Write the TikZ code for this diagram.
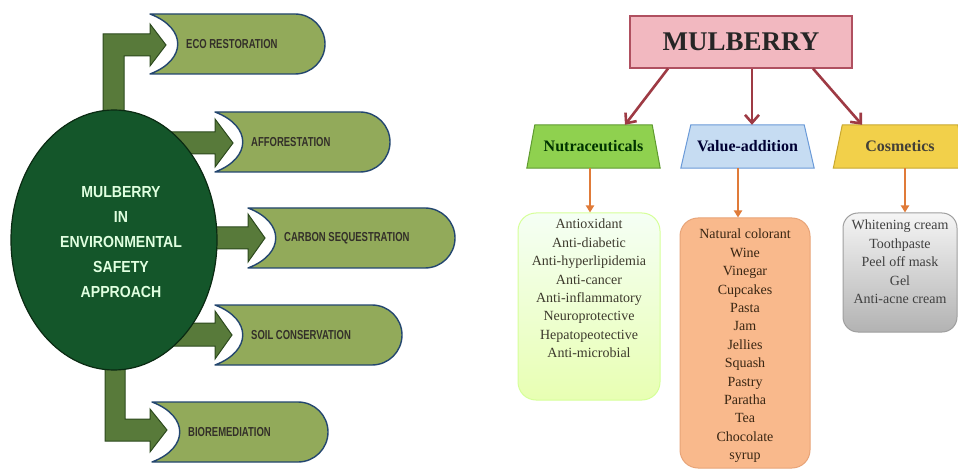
\documentclass[tikz,border=0pt]{standalone}
\usepackage{fontspec}
\setmainfont{Liberation Serif}
\newfontfamily\condsans[FakeStretch=0.73]{Liberation Sans}
\newfontfamily\ellsans[FakeStretch=0.88]{Liberation Sans}
\usetikzlibrary{shapes.geometric,arrows.meta}
\definecolor{boxfill}{HTML}{92AA5A}
\definecolor{boxline}{HTML}{23466F}
\definecolor{arrfill}{HTML}{587A3A}
\definecolor{arrline}{HTML}{2D4A1E}
\definecolor{ellfill}{HTML}{14562A}
\definecolor{ellline}{HTML}{0A2A12}
\definecolor{mulfill}{HTML}{F2B8C0}
\definecolor{mulline}{HTML}{B05060}
\definecolor{redarr}{HTML}{9E3A44}
\definecolor{nutfill}{HTML}{8FD14F}
\definecolor{nutline}{HTML}{5F9A30}
\definecolor{valfill}{HTML}{C6DCF2}
\definecolor{valline}{HTML}{6A9AD8}
\definecolor{cosfill}{HTML}{F2D04A}
\definecolor{cosline}{HTML}{C8A830}
\definecolor{orarr}{HTML}{E07B39}
\definecolor{orfill}{HTML}{F9B98C}
\definecolor{orline}{HTML}{E8A478}
\pgfdeclarelayer{bg}
\pgfsetlayers{bg,main}
\newcommand{\ecobox}[6]{%
  \draw[white, line width=5pt] (#2,#5) .. controls ({#2+37},{#5-14}) and ({#2+37},{#3+14}) .. (#2,#3);
  \draw[ebox] (#2,#3) -- ({#4-30},#3) arc[start angle=-90,end angle=90,radius=30] -- (#2,#5) .. controls ({#2+37},{#5-14}) and ({#2+37},{#3+14}) .. (#2,#3) -- cycle;
  \node[etxt] (#1) at ({#2+36},{(#3+#5)/2}) {#6};
}
\begin{document}
\begin{tikzpicture}[x=1pt,y=-1pt,
  ebox/.style={fill=boxfill, draw=boxline, line width=1.4pt, line join=round},
  etxt/.style={anchor=west, inner sep=0pt, text=black!85!olive, font=\condsans\bfseries\fontsize{13}{15}\selectfont},
  blockarr/.style={fill=arrfill, draw=arrline, line width=1pt, line join=miter},
  trapnode/.style={minimum width=133pt, minimum height=43pt, inner sep=0pt, font=\bfseries\fontsize{16}{18}\selectfont},
  redline/.style={draw=redarr, line width=2.6pt, -{Straight Barb[length=8pt,width=14pt]}},
  orline/.style={draw=orarr, line width=2pt, -{Triangle[length=7pt,width=8pt]}},
  lbox/.style={rounded corners=18pt, line width=1pt, inner sep=0pt},
  ltxt/.style={anchor=north, align=center, inner sep=0pt, font=\fontsize{14}{18.4}\selectfont}]
\useasboundingbox (0,0) rectangle (958,470);
\clip (0,0) rectangle (958,470);
\begin{pgfonlayer}{bg}
\fill[white] (0,0) rectangle (958,470);
\end{pgfonlayer}

% ---------- left: block arrows ----------
\draw[blockarr] (103,140) -- (103,34) -- (150,34) -- (150,24) -- (166,45) -- (150,66) -- (150,56) -- (124,56) -- (124,140) -- cycle;
\draw[blockarr] (150,132) -- (215,132) -- (215,119) -- (233,143) -- (215,167) -- (215,154) -- (150,154) -- cycle;
\draw[blockarr] (190,227) -- (248,227) -- (248,214) -- (265,238) -- (248,262) -- (248,249) -- (190,249) -- cycle;
\draw[blockarr] (150,323) -- (215,323) -- (215,311) -- (232,335) -- (215,359) -- (215,346) -- (150,346) -- cycle;
\draw[blockarr] (105,340) -- (105,441) -- (150,441) -- (150,452) -- (167,430) -- (150,409) -- (150,419) -- (125,419) -- (125,340) -- cycle;

% ---------- ellipse ----------
\node[ellipse, fill=ellfill, draw=ellline, line width=1.2pt, minimum width=206pt, minimum height=260pt, inner sep=0pt] (env) at (114,240) {};
\node[align=center, inner sep=0pt, text=white!88!green, font=\ellsans\bfseries\fontsize{16}{24.8}\selectfont] (envtxt) at (121,242) {MULBERRY\\IN\\ENVIRONMENTAL\\SAFETY\\APPROACH};

% ---------- left: boxes ----------
\ecobox{eco}{150}{14}{325}{74}{ECO RESTORATION}
\ecobox{aff}{215}{112}{390}{172}{AFFORESTATION}
\ecobox{carb}{248}{208}{455}{268}{CARBON SEQUESTRATION}
\ecobox{soil}{215}{305}{402}{365}{SOIL CONSERVATION}
\ecobox{bio}{152}{402}{328}{462}{BIOREMEDIATION}

% ---------- right: top box ----------
\node[fill=mulfill, draw=mulline, line width=1.2pt, minimum width=222pt, minimum height=52pt, inner sep=0pt, text=black!85, font=\bfseries\fontsize{27}{30}\selectfont] (mul) at (741,42) {MULBERRY};

% ---------- trapezoids ----------
\node[trapnode, text=black!80!green] (nut) at (593.5,146.5) {Nutraceuticals};
\node[trapnode, text=black!80!blue] (val) at (747.5,146.5) {Value-addition};
\node[trapnode, text=black!85!yellow] (cos) at (900,146.5) {Cosmetics};
\begin{pgfonlayer}{bg}
\draw[fill=nutfill, draw=nutline, line width=1pt] (nut.south west) -- (nut.south east) -- ([xshift=-8pt]nut.north east) -- ([xshift=8pt]nut.north west) -- cycle;
\draw[fill=valfill, draw=valline, line width=1pt] (val.south west) -- (val.south east) -- ([xshift=-10pt]val.north east) -- ([xshift=10pt]val.north west) -- cycle;
\draw[fill=cosfill, draw=cosline, line width=1pt] (cos.south west) -- (cos.south east) -- ([xshift=-9pt]cos.north east) -- ([xshift=9pt]cos.north west) -- cycle;
\end{pgfonlayer}

% ---------- red arrows ----------
\draw[redline] ([xshift=-73pt]mul.south) -- ([xshift=31.5pt]nut.north);
\draw[redline] ([xshift=11pt]mul.south) -- ([xshift=4.5pt]val.north);
\draw[redline] ([xshift=72pt]mul.south) -- ([xshift=-38pt]cos.north);

% ---------- list boxes ----------
\node[lbox, top color=green!4!white, bottom color=green!30!yellow!30!white, draw=green!40!yellow!40!white, minimum width=142pt, minimum height=187pt] (nutlist) at (589,306.5) {};
\node[lbox, fill=orfill, draw=orline, minimum width=130pt, minimum height=250pt] (vallist) at (745,343) {};
\node[lbox, rounded corners=15pt, top color=gray!8, bottom color=gray!60, draw=gray!75, minimum width=114pt, minimum height=119pt] (coslist) at (900,272.5) {};

\node[ltxt, text=black!75!olive] (nuttxt) at (589,219) {Antioxidant\\Anti-diabetic\\Anti-hyperlipidemia\\Anti-cancer\\Anti-inflammatory\\Neuroprotective\\Hepatopeotective\\Anti-microbial};
\node[ltxt, text=black!70!brown] (valtxt) at (745,229) {Natural colorant\\Wine\\Vinegar\\Cupcakes\\Pasta\\Jam\\Jellies\\Squash\\Pastry\\Paratha\\Tea\\Chocolate\\syrup};
\node[ltxt, text=black!75] (costxt) at (900,220) {Whitening cream\\Toothpaste\\Peel off mask\\Gel\\Anti-acne cream};

% ---------- orange arrows ----------
\draw[orline] ([xshift=-3.5pt]nut.south) -- ([xshift=-3.5pt]nut.south |- nutlist.north);
\draw[orline] ([xshift=-9.5pt]val.south) -- ([xshift=-9.5pt]val.south |- vallist.north);
\draw[orline] ([xshift=5pt]cos.south) -- ([xshift=5pt]cos.south |- coslist.north);
\end{tikzpicture}
\end{document}
